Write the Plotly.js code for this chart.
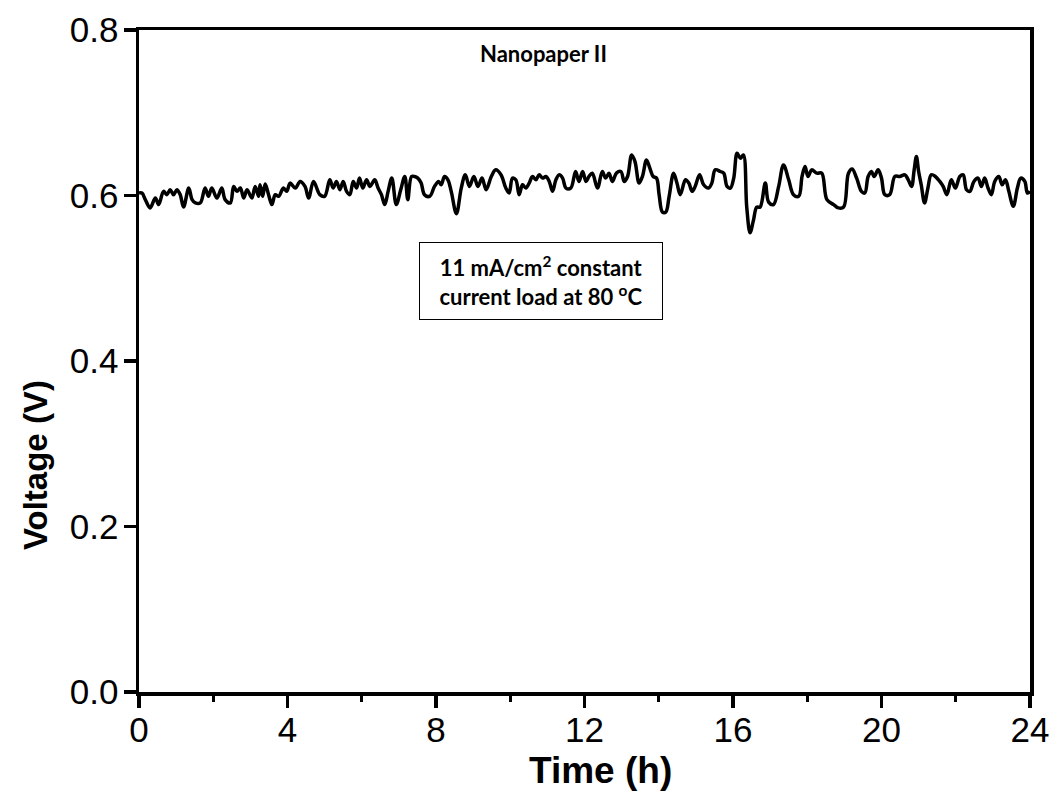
<!DOCTYPE html>
<html>
<head>
<meta charset="utf-8">
<script src="https://cdn.plot.ly/plotly-3.0.1.min.js"></script>
<style>html,body{margin:0;padding:0;background:#fff;}#chart{width:1061px;height:793px;}</style>
</head>
<body>
<div id="chart"></div>
<script>
// Time (h)
const timeH = [
0.00,0.08,0.17,0.30,0.44,0.53,0.66,0.75,0.84,0.93,1.02,1.11,1.20,1.34,1.43,1.52,1.65,1.78,1.87,1.96,
2.10,2.23,2.32,2.46,2.55,2.64,2.73,2.82,2.91,3.04,3.13,3.22,3.26,3.33,3.40,3.49,3.58,3.67,3.76,3.89,
3.98,4.07,4.21,4.34,4.47,4.57,4.70,4.87,5.00,5.14,5.23,5.32,5.41,5.50,5.59,5.68,5.77,5.86,5.94,6.03,
6.13,6.22,6.35,6.44,6.53,6.62,6.71,6.81,6.93,7.05,7.16,7.24,7.34,7.42,7.51,7.60,7.69,7.83,7.96,8.07,
8.14,8.23,8.32,8.41,8.55,8.68,8.79,8.90,9.02,9.13,9.24,9.35,9.49,9.61,9.75,9.88,9.97,10.06,10.15,10.24,
10.33,10.42,10.51,10.60,10.69,10.78,10.87,10.96,11.05,11.14,11.23,11.32,11.41,11.50,11.63,11.76,11.85,11.95,12.04,12.12,
12.21,12.35,12.48,12.57,12.66,12.75,12.86,12.98,13.07,13.16,13.27,13.36,13.47,13.56,13.67,13.76,13.85,13.94,14.01,14.10,
14.19,14.28,14.40,14.49,14.58,14.72,14.81,14.90,14.98,15.10,15.21,15.34,15.43,15.52,15.66,15.75,15.84,15.93,16.02,16.11,
16.20,16.28,16.37,16.46,16.55,16.64,16.73,16.87,16.96,17.09,17.23,17.36,17.50,17.63,17.77,17.86,17.94,18.02,18.12,18.26,
18.39,18.53,18.71,18.84,18.98,19.11,19.21,19.33,19.46,19.55,19.64,19.73,19.80,19.91,20.00,20.09,20.22,20.36,20.49,20.63,
20.72,20.81,20.88,20.94,21.00,21.07,21.16,21.25,21.34,21.45,21.57,21.66,21.76,21.88,21.99,22.11,22.20,22.29,22.38,22.49,
22.60,22.69,22.78,22.87,22.96,23.05,23.16,23.25,23.34,23.43,23.55,23.66,23.75,23.86,23.93,24.00
];
// Voltage (V)
const voltageV = [
0.603,0.603,0.595,0.585,0.597,0.589,0.605,0.601,0.607,0.601,0.607,0.601,0.586,0.609,0.595,0.591,0.591,0.609,0.599,0.609,
0.597,0.609,0.595,0.591,0.611,0.605,0.609,0.597,0.607,0.597,0.611,0.599,0.613,0.599,0.614,0.601,0.589,0.601,0.599,0.609,
0.605,0.615,0.609,0.617,0.611,0.597,0.617,0.601,0.599,0.619,0.609,0.617,0.607,0.617,0.605,0.601,0.617,0.609,0.621,0.609,
0.619,0.611,0.619,0.609,0.601,0.589,0.605,0.621,0.589,0.607,0.623,0.595,0.623,0.623,0.621,0.615,0.601,0.599,0.611,0.617,
0.613,0.623,0.619,0.605,0.578,0.609,0.625,0.611,0.623,0.611,0.621,0.607,0.623,0.631,0.625,0.609,0.603,0.621,0.619,0.601,
0.613,0.609,0.615,0.623,0.619,0.625,0.621,0.623,0.617,0.605,0.619,0.625,0.621,0.609,0.609,0.629,0.617,0.629,0.617,0.623,
0.627,0.609,0.629,0.621,0.627,0.617,0.627,0.629,0.617,0.623,0.649,0.641,0.615,0.623,0.643,0.633,0.623,0.621,0.601,0.580,
0.580,0.599,0.627,0.615,0.601,0.619,0.615,0.605,0.611,0.625,0.613,0.609,0.615,0.631,0.629,0.627,0.611,0.609,0.621,0.651,
0.645,0.649,0.586,0.555,0.570,0.586,0.586,0.615,0.592,0.589,0.611,0.637,0.619,0.601,0.599,0.623,0.635,0.623,0.631,0.627,
0.627,0.595,0.589,0.585,0.586,0.627,0.632,0.621,0.605,0.603,0.623,0.629,0.623,0.631,0.621,0.601,0.601,0.623,0.623,0.625,
0.619,0.611,0.631,0.647,0.629,0.613,0.591,0.609,0.625,0.623,0.617,0.611,0.601,0.619,0.609,0.623,0.625,0.607,0.605,0.617,
0.621,0.611,0.621,0.609,0.601,0.617,0.623,0.613,0.619,0.605,0.587,0.609,0.621,0.617,0.603,0.605
];
const xTicks = [0, 4, 8, 12, 16, 20, 24];
const yTicks = [0.0, 0.2, 0.4, 0.6, 0.8];
const titleText = "Nanopaper II";
const boxText = "11 mA/cm<sup>2</sup> constant<br>current load at 80 <sup>o</sup>C";
const xTitle = "Time (h)";
const yTitle = "Voltage (V)";

const trace = {
  x: timeH, y: voltageV, type: 'scatter', mode: 'lines',
  line: {color: '#000', width: 3.5, shape: 'spline', smoothing: 1.0},
  hoverinfo: 'skip'
};

const axisCommon = {
  showline: true, linecolor: '#000', linewidth: 3.5, mirror: true,
  showgrid: false, zeroline: false,
  ticks: 'outside', ticklen: 12, tickwidth: 3.5, tickcolor: '#000',
  tickfont: {family: 'Liberation Sans, Arial, sans-serif', size: 35, color: '#000'}
};

const layout = {
  width: 1061, height: 793,
  margin: {l: 139, r: 31, t: 30, b: 101},
  paper_bgcolor: '#fff', plot_bgcolor: '#fff',
  showlegend: false,
  xaxis: Object.assign({}, axisCommon, {
    range: [0, 24], tickvals: xTicks, ticktext: xTicks.map(String),
    ticklabelstandoff: -8,
    minor: {dtick: 2, tick0: 0, ticks: 'outside', ticklen: 6, tickwidth: 3, tickcolor: '#000'}
  }),
  yaxis: Object.assign({}, axisCommon, {
    range: [0, 0.8], tickvals: yTicks, ticktext: yTicks.map(v => v.toFixed(1)),
    ticklabelstandoff: -2
  }),
  annotations: [
    {xref: 'paper', yref: 'paper', x: 0.518, y: -0.118, text: '<b>' + xTitle + '</b>', showarrow: false,
     xanchor: 'center', yanchor: 'middle', font: {family: 'Liberation Sans, Arial, sans-serif', size: 37, color: '#000'}},
    {xref: 'paper', yref: 'paper', x: -0.1155, y: 0.343, text: '<b>' + yTitle + '</b>', showarrow: false, textangle: -90,
     xanchor: 'center', yanchor: 'middle', font: {family: 'Liberation Sans, Arial, sans-serif', size: 33, color: '#000'}},
    {xref: 'x', yref: 'y', x: 10.9, y: 0.772, text: '<b>' + titleText + '</b>', showarrow: false,
     xanchor: 'center', yanchor: 'middle', font: {family: 'Lato, sans-serif', size: 22, color: '#000'}},
    {xref: 'x', yref: 'y', x: 10.82, y: 0.497, text: '<b>' + boxText + '</b>', showarrow: false,
     xanchor: 'center', yanchor: 'middle', align: 'center', bordercolor: '#000', borderwidth: 1, borderpad: 4,
     bgcolor: '#fff', width: 234, height: 68,
     font: {family: 'Lato, sans-serif', size: 22, color: '#000'}}
  ]
};

Plotly.newPlot('chart', [trace], layout, {displayModeBar: false, staticPlot: true});
</script>
</body>
</html>
